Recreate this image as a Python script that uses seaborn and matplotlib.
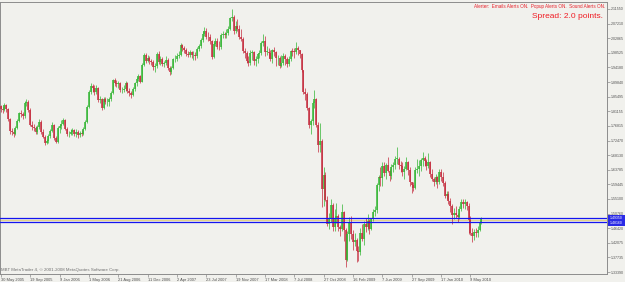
import matplotlib
matplotlib.use("Agg")
import matplotlib.pyplot as plt
from matplotlib.patches import Rectangle
import seaborn as sns
import numpy as np

# ---------------- data (GBPUSD weekly) ----------------
first_open = 1.827
closes = [
    1.818, 1.816, 1.829, 1.818, 1.789, 1.753, 1.750, 1.744, 1.763, 1.784,
    1.805, 1.802, 1.797, 1.837, 1.838, 1.816, 1.772, 1.764, 1.761, 1.750,
    1.765, 1.780, 1.749, 1.736, 1.718, 1.722, 1.737, 1.753, 1.771, 1.731,
    1.721, 1.762, 1.769, 1.775, 1.785, 1.760, 1.743, 1.745, 1.749, 1.755,
    1.743, 1.750, 1.740, 1.748, 1.744, 1.760, 1.780, 1.825, 1.868, 1.887,
    1.880, 1.868, 1.882, 1.845, 1.847, 1.820, 1.849, 1.839, 1.839, 1.848,
    1.867, 1.904, 1.896, 1.893, 1.895, 1.874, 1.875, 1.877, 1.896, 1.871,
    1.866, 1.860, 1.877, 1.895, 1.908, 1.915, 1.900, 1.950, 1.978, 1.961,
    1.969, 1.961, 1.958, 1.942, 1.945, 1.983, 1.958, 1.966, 1.951, 1.955,
    1.965, 1.940, 1.928, 1.941, 1.966, 1.968, 1.977, 1.980, 2.008, 2.000,
    1.994, 1.983, 1.980, 1.987, 1.978, 1.980, 1.976, 1.997, 2.006, 2.022,
    2.041, 2.051, 2.033, 2.031, 2.019, 1.974, 2.011, 2.021, 2.003, 2.002,
    2.039, 2.041, 2.037, 2.043, 2.057, 2.088, 2.093, 2.051, 2.064, 2.057,
    2.031, 2.027, 1.990, 1.985, 1.962, 1.955, 1.986, 1.987, 1.962, 1.967,
    1.981, 1.984, 2.013, 2.020, 1.988, 1.988, 1.986, 1.968, 1.993, 1.987,
    1.969, 1.971, 1.946, 1.956, 1.976, 1.967, 1.952, 1.968, 1.991, 1.989,
    1.988, 1.999, 1.994, 1.981, 1.933, 1.870, 1.862, 1.822, 1.770, 1.782,
    1.836, 1.847, 1.771, 1.712, 1.723, 1.582, 1.623, 1.548, 1.476, 1.490,
    1.534, 1.467, 1.494, 1.500, 1.468, 1.463, 1.511, 1.460, 1.370, 1.448,
    1.481, 1.446, 1.423, 1.428, 1.396, 1.393, 1.450, 1.433, 1.478, 1.467,
    1.484, 1.463, 1.492, 1.513, 1.517, 1.593, 1.616, 1.613, 1.649, 1.628,
    1.651, 1.633, 1.619, 1.646, 1.651, 1.670, 1.670, 1.651, 1.650, 1.631,
    1.640, 1.660, 1.636, 1.600, 1.593, 1.583, 1.637, 1.640, 1.650, 1.667,
    1.672, 1.663, 1.650, 1.661, 1.625, 1.611, 1.600, 1.616, 1.601, 1.631,
    1.617, 1.598, 1.559, 1.566, 1.544, 1.531, 1.503, 1.510, 1.502, 1.498,
    1.520, 1.541, 1.536, 1.541, 1.530, 1.488, 1.450, 1.440, 1.452, 1.450,
    1.459, 1.483, 1.492,
]
highs = [
    1.830, 1.826, 1.835, 1.833, 1.822, 1.792, 1.763, 1.760, 1.768, 1.790,
    1.810, 1.815, 1.808, 1.842, 1.849, 1.845, 1.820, 1.782, 1.775, 1.768,
    1.772, 1.788, 1.785, 1.758, 1.741, 1.730, 1.743, 1.760, 1.780, 1.775,
    1.738, 1.767, 1.775, 1.785, 1.791, 1.789, 1.764, 1.752, 1.760, 1.763,
    1.759, 1.758, 1.757, 1.754, 1.757, 1.765, 1.787, 1.830, 1.875, 1.895,
    1.893, 1.890, 1.890, 1.885, 1.858, 1.850, 1.855, 1.855, 1.850, 1.855,
    1.872, 1.908, 1.910, 1.905, 1.903, 1.900, 1.885, 1.890, 1.902, 1.900,
    1.880, 1.872, 1.883, 1.900, 1.913, 1.922, 1.920, 1.955, 1.985, 1.984,
    1.980, 1.975, 1.968, 1.965, 1.955, 1.988, 1.990, 1.975, 1.972, 1.962,
    1.975, 1.970, 1.945, 1.946, 1.970, 1.978, 1.985, 1.992, 2.013, 2.012,
    2.006, 2.000, 1.990, 1.993, 1.992, 1.990, 1.988, 2.002, 2.012, 2.028,
    2.050, 2.063, 2.060, 2.048, 2.040, 2.022, 2.016, 2.030, 2.028, 2.020,
    2.044, 2.050, 2.048, 2.055, 2.065, 2.092, 2.116, 2.098, 2.081, 2.085,
    2.067, 2.055, 2.033, 2.000, 1.990, 1.975, 1.995, 1.995, 1.990, 1.975,
    1.985, 1.995, 2.020, 2.040, 2.035, 2.005, 2.000, 1.995, 1.998, 2.003,
    1.990, 1.980, 1.975, 1.980, 1.985, 1.982, 1.972, 1.975, 1.995, 2.000,
    2.000, 2.016, 2.005, 1.995, 1.985, 1.935, 1.880, 1.870, 1.825, 1.790,
    1.842, 1.875, 1.850, 1.780, 1.776, 1.730, 1.645, 1.630, 1.560, 1.510,
    1.550, 1.540, 1.520, 1.540, 1.505, 1.475, 1.535, 1.515, 1.465, 1.456,
    1.498, 1.500, 1.460, 1.450, 1.435, 1.412, 1.465, 1.478, 1.484, 1.494,
    1.505, 1.490, 1.495, 1.520, 1.530, 1.597, 1.622, 1.645, 1.660, 1.660,
    1.657, 1.675, 1.640, 1.655, 1.662, 1.678, 1.705, 1.675, 1.665, 1.660,
    1.648, 1.675, 1.665, 1.645, 1.602, 1.600, 1.645, 1.670, 1.667, 1.672,
    1.690, 1.680, 1.670, 1.688, 1.665, 1.640, 1.615, 1.625, 1.620, 1.640,
    1.640, 1.630, 1.605, 1.575, 1.575, 1.555, 1.535, 1.525, 1.530, 1.510,
    1.530, 1.552, 1.552, 1.550, 1.545, 1.538, 1.500, 1.465, 1.462, 1.465,
    1.470, 1.486, 1.496,
]
lows = [
    1.810, 1.806, 1.811, 1.810, 1.783, 1.743, 1.742, 1.735, 1.740, 1.758,
    1.780, 1.795, 1.788, 1.793, 1.827, 1.810, 1.768, 1.757, 1.752, 1.745,
    1.745, 1.760, 1.745, 1.731, 1.712, 1.713, 1.716, 1.732, 1.749, 1.727,
    1.717, 1.718, 1.748, 1.760, 1.771, 1.755, 1.737, 1.735, 1.740, 1.742,
    1.738, 1.736, 1.733, 1.735, 1.738, 1.740, 1.755, 1.778, 1.822, 1.862,
    1.870, 1.860, 1.862, 1.840, 1.835, 1.815, 1.818, 1.832, 1.828, 1.826,
    1.843, 1.863, 1.888, 1.885, 1.880, 1.870, 1.866, 1.868, 1.872, 1.865,
    1.858, 1.852, 1.856, 1.872, 1.888, 1.902, 1.895, 1.898, 1.945, 1.955,
    1.958, 1.952, 1.950, 1.935, 1.928, 1.940, 1.952, 1.950, 1.945, 1.942,
    1.950, 1.935, 1.920, 1.922, 1.937, 1.958, 1.960, 1.970, 1.976, 1.992,
    1.985, 1.975, 1.972, 1.972, 1.970, 1.965, 1.965, 1.970, 1.990, 2.000,
    2.018, 2.035, 2.025, 2.020, 2.010, 1.966, 1.970, 2.005, 1.997, 1.995,
    1.998, 2.030, 2.030, 2.028, 2.038, 2.052, 2.080, 2.040, 2.045, 2.050,
    2.026, 2.020, 1.985, 1.970, 1.955, 1.945, 1.950, 1.965, 1.950, 1.945,
    1.956, 1.970, 1.980, 2.005, 1.975, 1.978, 1.970, 1.960, 1.955, 1.975,
    1.945, 1.950, 1.940, 1.942, 1.950, 1.950, 1.942, 1.945, 1.960, 1.975,
    1.970, 1.982, 1.980, 1.970, 1.928, 1.863, 1.845, 1.815, 1.762, 1.745,
    1.770, 1.822, 1.765, 1.690, 1.690, 1.526, 1.530, 1.545, 1.472, 1.462,
    1.482, 1.457, 1.455, 1.480, 1.455, 1.440, 1.455, 1.426, 1.350, 1.366,
    1.425, 1.432, 1.400, 1.410, 1.365, 1.366, 1.385, 1.425, 1.415, 1.452,
    1.460, 1.446, 1.458, 1.485, 1.500, 1.510, 1.575, 1.590, 1.590, 1.620,
    1.610, 1.630, 1.605, 1.610, 1.630, 1.640, 1.655, 1.640, 1.630, 1.620,
    1.610, 1.638, 1.622, 1.590, 1.570, 1.575, 1.580, 1.628, 1.620, 1.635,
    1.650, 1.648, 1.637, 1.642, 1.615, 1.605, 1.590, 1.595, 1.585, 1.596,
    1.605, 1.590, 1.555, 1.550, 1.535, 1.512, 1.478, 1.490, 1.495, 1.482,
    1.490, 1.515, 1.525, 1.522, 1.518, 1.448, 1.445, 1.423, 1.430, 1.437,
    1.437, 1.455, 1.478,
]
date_labels = ["30 May 2005", "19 Sep 2005", "9 Jan 2006", "1 May 2006",
               "21 Aug 2006", "11 Dec 2006", "2 Apr 2007", "23 Jul 2007",
               "19 Nov 2007", "17 Mar 2008", "7 Jul 2008", "27 Oct 2008",
               "16 Feb 2009", "7 Jun 2009", "27 Sep 2009", "17 Jan 2010",
               "9 May 2010"]
date_label_bars = [0, 16, 32, 48, 64, 80, 96, 112, 128, 144, 160, 176,
                   192, 208, 224, 240, 256]
price_labels = ["2.11550", "2.07210", "2.02865", "1.98525", "1.94180",
                "1.89840", "1.85495", "1.81155", "1.76815", "1.72470",
                "1.68130", "1.63785", "1.59445", "1.55100", "1.50760",
                "1.46420", "1.42075", "1.37735", "1.33390"]
level_lines = [1.4935, 1.4816]
bid_line = 1.4876
alert_text = "Alerter:  Emails Alerts ON.  Popup Alerts ON.  Sound Alerts ON."
spread_text = "Spread: 2.0 points."
copyright_text = "MBT MetaTrader 4, \u00a9 2001-2008 MetaQuotes Software Corp."

# ---------------- style ----------------
sns.set_theme(style="white")
plt.rcParams["font.family"] = ["Liberation Sans", "DejaVu Sans"]
BG = "#f1f1ed"
UP = "#33b533"
DOWN = "#c42a3c"

W, H = 625, 282
fig = plt.figure(figsize=(W / 100, H / 100), dpi=100, facecolor=BG)
ax = fig.add_axes([0 / W, 8 / H, 607 / W, 272 / H], facecolor=BG)

n = len(closes)
idx = np.arange(n)
opens = np.array([first_open] + closes[:-1])
c = np.array(closes)
hi = np.array(highs)
lo = np.array(lows)
up = c >= opens
cols = np.where(up, UP, DOWN)
body_lo = np.minimum(opens, c)
body_hi = np.maximum(opens, c)
body_hi = np.where(body_hi - body_lo < 0.0015, body_lo + 0.0015, body_hi)

ax.vlines(idx, lo, hi, colors=cols, lw=0.5, zorder=3)
ax.vlines(idx, body_lo, body_hi, colors=cols, lw=1.1, zorder=4)

# horizontal level lines
ax.axhline(bid_line, color="#e2d28c", lw=0.9, zorder=2)
for lv in level_lines:
    ax.axhline(lv, color="#1414f0", lw=0.9, zorder=5)

ax.set_xlim(-0.44, 330.5)
ax.set_ylim(1.32796, 2.13630)

# axes frame
for s in ax.spines.values():
    s.set_color("#8c8c8c")
    s.set_linewidth(0.7)

# x ticks
ax.set_xticks(date_label_bars)
ax.set_xticklabels(date_labels, ha="left", fontsize=2.9, color="#505050")
ax.tick_params(axis="x", length=2, width=0.5, color="#8c8c8c", pad=0.6,
               direction="out", bottom=True)

# y ticks on the right
ax.yaxis.tick_right()
ax.set_yticks([float(v) for v in price_labels])
ax.set_yticklabels(price_labels, fontsize=2.6, color="#505050")
ax.tick_params(axis="y", length=2, width=0.5, color="#8c8c8c", pad=1.0,
               direction="out", right=True, left=False)
ax.grid(False)

# price box on the axis for the level lines
box = Rectangle((608 / W, (H - 225.5) / H), 17 / W, 10.5 / H,
                transform=fig.transFigure, facecolor="#2a2ae6",
                edgecolor="none", zorder=10)
fig.patches.append(box)
fig.text(610 / W, (H - 218.3) / H, "1.49350", fontsize=2.5, color="white",
         va="center", ha="left", zorder=11)
fig.text(610 / W, (H - 222.5) / H, "1.48160", fontsize=2.5, color="white",
         va="center", ha="left", zorder=11)

# texts
fig.text(605 / W, (H - 6.5) / H, alert_text, fontsize=3.3, color="#e8202a",
         ha="right", va="center")
fig.text(603 / W, (H - 16.5) / H, spread_text, fontsize=6.0, color="#f01c24",
         ha="right", va="center")
fig.text(1.5 / W, (H - 270.5) / H, copyright_text, fontsize=3.2,
         color="#707070", ha="left", va="center")

fig.savefig("out.png", dpi=100, facecolor=BG)
